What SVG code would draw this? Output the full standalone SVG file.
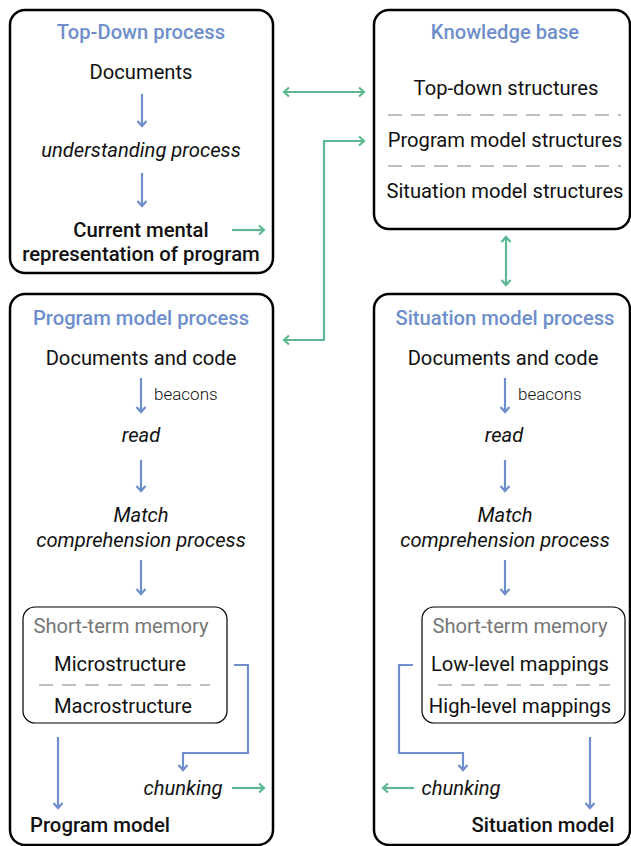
<svg xmlns="http://www.w3.org/2000/svg" width="631" height="846" viewBox="0 0 631 846">
<defs>
<style>
text{font-family:Roboto,"Liberation Sans",sans-serif;fill:#111;text-anchor:middle;dominant-baseline:central}
.t{font-size:20.2px;font-weight:500;fill:#6E8FCB}
.n{font-size:20.2px}
.i{font-size:20.2px;font-style:italic}
.b{font-size:20.3px;font-weight:500}
.s{font-size:17px;font-weight:300;text-anchor:start}
.g{font-size:20.2px;fill:#777}
.box{fill:#fff;stroke:#000;stroke-width:2.5}
.stm{fill:#fff;stroke:#000;stroke-width:1.2}
.dash{stroke:#aaa;stroke-width:1.5;stroke-dasharray:14,9;fill:none}
.bl{stroke:#6E8FCB;stroke-width:2.2;fill:none;marker-end:url(#ab)}
.gr{stroke:#5DB891;stroke-width:2.2;fill:none;marker-end:url(#ag)}
.gr2{stroke:#5DB891;stroke-width:2.2;fill:none;marker-end:url(#ag);marker-start:url(#ag)}
</style>
<marker id="ab" viewBox="0 0 10 12" refX="8" refY="6" markerWidth="10" markerHeight="12" markerUnits="userSpaceOnUse" orient="auto-start-reverse"><path d="M3,1.5 L8,6 L3,10.5" fill="none" stroke="#6E8FCB" stroke-width="2.2"/></marker>
<marker id="ag" viewBox="0 0 10 12" refX="8" refY="6" markerWidth="10" markerHeight="12" markerUnits="userSpaceOnUse" orient="auto-start-reverse"><path d="M3,1.5 L8,6 L3,10.5" fill="none" stroke="#5DB891" stroke-width="2.2"/></marker>
</defs>
<rect width="631" height="846" fill="#fff"/>

<g id="topdown">
<rect class="box" x="10" y="10" width="263" height="263" rx="15"/>
<text class="t" x="141" y="32">Top-Down process</text>
<text class="n" x="141" y="72">Documents</text>
<text class="i" x="141" y="150">understanding process</text>
<text class="b" x="141" y="230">Current mental</text>
<text class="b" x="141" y="254">representation of program</text>
</g>

<g id="knowledge">
<rect class="box" x="374" y="10" width="256" height="219" rx="15"/>
<text class="t" x="505" y="32">Knowledge base</text>
<text class="n" x="506" y="88">Top-down structures</text>
<path class="dash" d="M388,115 H621"/>
<text class="n" x="505" y="140">Program model structures</text>
<path class="dash" d="M388,166 H621"/>
<text class="n" x="505" y="191">Situation model structures</text>
</g>

<g id="program">
<rect class="box" x="10" y="294" width="263" height="551" rx="15"/>
<text class="t" x="141" y="318">Program model process</text>
<text class="n" x="141" y="358">Documents and code</text>
<text class="s" x="154" y="394">beacons</text>
<text class="i" x="141" y="435">read</text>
<text class="i" x="141" y="515">Match</text>
<text class="i" x="141" y="540">comprehension process</text>
<rect class="stm" x="23" y="607" width="204" height="116" rx="12"/>
<text class="g" x="121" y="626">Short-term memory</text>
<text class="n" x="120" y="664">Microstructure</text>
<path class="dash" d="M39,685 H210"/>
<text class="n" x="123" y="706">Macrostructure</text>
<text class="i" x="183" y="788">chunking</text>
<text class="b" x="100" y="825">Program model</text>
</g>

<g id="situation">
<rect class="box" x="374" y="294" width="256" height="551" rx="15"/>
<text class="t" x="505" y="318">Situation model process</text>
<text class="n" x="503" y="358">Documents and code</text>
<text class="s" x="518" y="394">beacons</text>
<text class="i" x="504" y="435">read</text>
<text class="i" x="505" y="515">Match</text>
<text class="i" x="505" y="540">comprehension process</text>
<rect class="stm" x="422" y="607" width="203" height="116" rx="12"/>
<text class="g" x="520" y="626">Short-term memory</text>
<text class="n" x="520" y="664">Low-level mappings</text>
<path class="dash" d="M438,685 H610"/>
<text class="n" x="520" y="706">High-level mappings</text>
<text class="i" x="461" y="788">chunking</text>
<text class="b" x="543" y="825">Situation model</text>
</g>

<g id="connectors">
<path class="bl" d="M142,94 V126"/>
<path class="bl" d="M142,173 V206"/>
<path class="gr" d="M232,230 H264"/>
<path class="gr2" d="M284,92 H364"/>
<path class="gr2" d="M364,141 H324 V340 H284"/>
<path class="gr2" d="M506,237 V285"/>
<path class="bl" d="M141,378 V412"/>
<path class="bl" d="M141,460 V491"/>
<path class="bl" d="M141,560 V594"/>
<path class="bl" d="M58,737 V808"/>
<path class="bl" d="M234,665 H248 V753 H183 V770"/>
<path class="gr" d="M232,788 H264"/>
<path class="bl" d="M505,378 V412"/>
<path class="bl" d="M505,460 V491"/>
<path class="bl" d="M505,560 V594"/>
<path class="bl" d="M590,737 V808"/>
<path class="bl" d="M413,665 H399 V753 H463 V770"/>
<path class="gr" d="M414,788 H383"/>
</g>
</svg>
